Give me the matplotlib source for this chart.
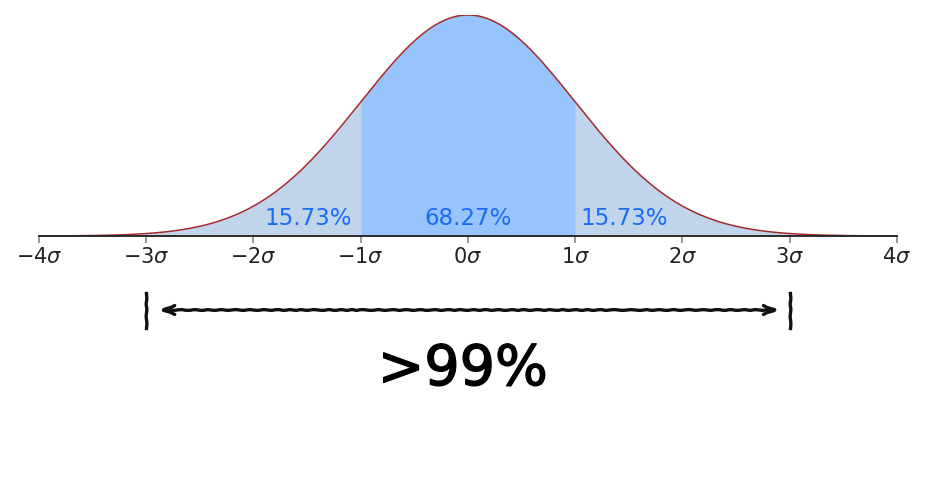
import numpy as np
import matplotlib
matplotlib.use("Agg")
import matplotlib.pyplot as plt
import matplotlib.patheffects as pe

# normal distribution, mean 0, sd 1
mu, sd = 0.0, 1.0
x_lo, x_hi = -4, 4
sigma_ticks = [-4, -3, -2, -1, 0, 1, 2, 3, 4]
tick_labels = [r"$-4\sigma$", r"$-3\sigma$", r"$-2\sigma$", r"$-1\sigma$", r"$0\sigma$",
               r"$1\sigma$", r"$2\sigma$", r"$3\sigma$", r"$4\sigma$"]
inner_band = (-1, 1)
pct_labels = ["15.73%", "68.27%", "15.73%"]
span_band = (-3, 3)
span_label = ">99%"

x = np.linspace(x_lo, x_hi, 800)
pdf = np.exp(-0.5 * ((x - mu) / sd) ** 2) / (sd * np.sqrt(2 * np.pi))

W, H = 937, 482
fig = plt.figure(figsize=(W / 100, H / 100), dpi=100)
left, right = 39 / W, 897 / W
ax = fig.add_axes([left, (H - 236) / H, right - left, (236 - 15) / H])

# outer (light) and inner (bright) fills
ax.fill_between(x, 0, pdf, color="#c0d4ec", lw=0)
inner = (x >= inner_band[0]) & (x <= inner_band[1])
ax.fill_between(x[inner], 0, pdf[inner], color="#97c4fc", lw=0)
ax.plot(x, pdf, color="#a52a2a", lw=1.1)

ax.set_xlim(x_lo, x_hi)
ax.set_ylim(0, pdf.max())
ax.set_yticks([])
for s in ["left", "right", "top"]:
    ax.spines[s].set_visible(False)
ax.spines["bottom"].set_color("#2b2b2b")
ax.spines["bottom"].set_linewidth(1.4)
ax.set_xticks(sigma_ticks)
ax.set_xticklabels(tick_labels)
ax.tick_params(axis="x", length=5, width=1.2, color="#888888", labelsize=15,
               labelcolor="#222222", pad=3)

pct_color = "#1a6cf5"
ax.text(inner_band[0] - 0.08, 0.02, pct_labels[0], ha="right", va="baseline",
        color=pct_color, fontsize=16.5)
ax.text(0, 0.02, pct_labels[1], ha="center", va="baseline",
        color=pct_color, fontsize=16.5)
ax.text(inner_band[1] + 0.05, 0.02, pct_labels[2], ha="left", va="baseline",
        color=pct_color, fontsize=16.5)

# hand-drawn style span annotation below the axis
ax2 = fig.add_axes([left, 0, right - left, 0.45])
ax2.set_xlim(x_lo, x_hi)
ax2.set_ylim(0, 1)
ax2.axis("off")

sk = (0.35, 15, 2)
for xb in span_band:
    ln, = ax2.plot([xb, xb], [0.71, 0.87], color="#111111", lw=2.4)
    ln.set_sketch_params(*sk)
arr = ax2.annotate("", xy=(span_band[0] + 0.12, 0.793), xytext=(span_band[1] - 0.1, 0.793),
                   arrowprops=dict(arrowstyle="<->,head_length=0.8,head_width=0.32",
                                   color="#111111", lw=2.4, shrinkA=0, shrinkB=0))
arr.arrow_patch.set_sketch_params(*sk)

ax2.text(-0.05, 0.447, span_label, ha="center", va="baseline", fontsize=40,
         color="black",
         path_effects=[pe.withStroke(linewidth=1.0, foreground="black")])

fig.savefig("out.png", dpi=100)
